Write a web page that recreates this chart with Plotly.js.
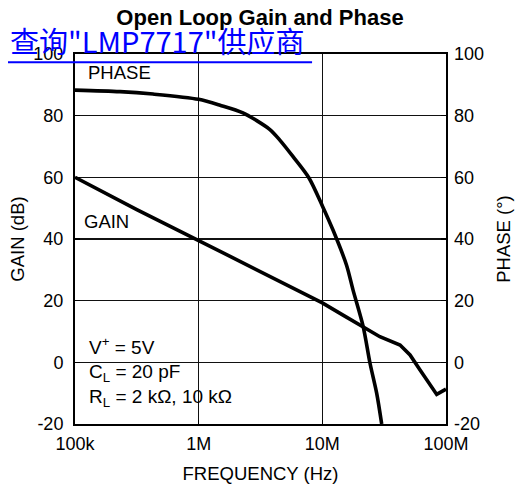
<!DOCTYPE html>
<html><head><meta charset="utf-8">
<script src="https://cdn.plot.ly/plotly-3.0.1.min.js"></script>
<style>html,body{margin:0;padding:0;background:#fff}</style>
</head><body><div id="chart" style="width:520px;height:488px"></div>
<script>
const freqTickVals = [1e5, 1e6, 1e7, 1e8];
const freqTickText = ["100k", "1M", "10M", "100M"];
const yTickVals = [-20, 0, 20, 40, 60, 80, 100];
const yTickText = ["-20", "0", "20", "40", "60", "80", "100"];

const gainFreq = [1e5, 3.16e5, 1e6, 3.16e6, 1e7, 1.47e7, 2.14e7, 2.92e7, 4.25e7, 5.12e7, 6.17e7, 8.41e7, 1e8];
const gainDb   = [60, 49.5, 39.5, 29.3, 19.3, 15.3, 11.6, 8.3, 5.6, 2.4, -2.5, -10.4, -8.7];

const phaseFreq = [1e5, 2.31e5, 4.28e5, 1e6, 1.49e6, 2.28e6, 3.77e6, 4.55e6, 5.8e6, 7.8e6, 1.007e7, 1.22e7, 1.57e7, 1.77e7, 2.14e7, 2.43e7, 2.75e7, 3.02e7];
const phaseDeg  = [88.3, 87.8, 87, 85.3, 83.4, 80.9, 75.5, 72, 66.7, 59.8, 50.5, 42.9, 31.5, 23.5, 11.6, -0.3, -10, -20];

const titleText = "<b>Open Loop Gain and Phase</b>";
const linkText = "查询\"LMP7717\"供应商";

const baseFont = "Liberation Sans, Arial, Helvetica, sans-serif";

const traces = [
  {x: gainFreq, y: gainDb, type: "scatter", mode: "lines", name: "GAIN",
   line: {color: "#000", width: 3.6}, xaxis: "x", yaxis: "y"},
  {x: phaseFreq, y: phaseDeg, type: "scatter", mode: "lines", name: "PHASE",
   line: {color: "#000", width: 3.6, shape: "spline", smoothing: 0.8}, xaxis: "x", yaxis: "y2"}
];

const layout = {
  width: 520, height: 488,
  margin: {l: 75, r: 74, t: 54, b: 64},
  paper_bgcolor: "#fff", plot_bgcolor: "#fff",
  font: {family: baseFont, size: 18, color: "#000"},
  showlegend: false,
  title: {text: titleText, font: {size: 22, family: baseFont, color: "#000"},
          x: 0.5, xanchor: "center", y: 0.965, yanchor: "middle", xref: "container", yref: "container"},
  xaxis: {type: "log", range: [5, 8], tickvals: freqTickVals, ticktext: freqTickText,
          ticks: "inside", ticklen: 4, tickcolor: "#000", tickwidth: 1.2, ticklabelstandoff: 2,
          showgrid: true, gridcolor: "#111", gridwidth: 1.3,
          showline: true, linecolor: "#000", linewidth: 2, mirror: true, zeroline: false,
          tickfont: {size: 18}, title: {text: "FREQUENCY (Hz)", font: {size: 18.5}, standoff: 14}},
  yaxis: {range: [-20, 100], tickvals: yTickVals, ticktext: yTickText, ticks: "inside", ticklen: 5, tickcolor: "#000", tickwidth: 1.2,
          ticklabelstandoff: 6,
          showgrid: true, gridcolor: "#111", gridwidth: 1.3,
          showline: true, linecolor: "#000", linewidth: 2, mirror: true, zeroline: false,
          tickfont: {size: 18}, title: {text: "GAIN (dB)", font: {size: 18.5}, standoff: 4}},
  yaxis2: {overlaying: "y", side: "right", range: [-20, 100], tickvals: yTickVals, ticktext: yTickText,
          ticks: "inside", ticklen: 5, tickcolor: "#000", tickwidth: 1.2, ticklabelstandoff: 7,
          showgrid: false, zeroline: false, showline: false,
          tickfont: {size: 18}, title: {text: "PHASE (°)", font: {size: 18.5}, standoff: 14}},
  shapes: [
    {type: "rect", xref: "paper", yref: "paper", x0: 0, x1: 0.439, y0: 0, y1: 0.2676,
     fillcolor: "#fff", line: {width: 0}, layer: "between"},
    {type: "line", xref: "paper", yref: "paper", x0: -0.1806, x1: 0.639, y0: 0.978, y1: 0.978,
     line: {color: "#0000ff", width: 2}, layer: "above"}
  ],
  annotations: [
    {text: "PHASE", xref: "paper", yref: "paper", x: 0.0296, y: 0.951, xanchor: "left", yanchor: "middle", showarrow: false, font: {size: 18.5}},
    {text: "GAIN", xref: "paper", yref: "paper", x: 0.0189, y: 0.5486, xanchor: "left", yanchor: "middle", showarrow: false, font: {size: 18.5}},
    {text: "V<sup>+</sup> = 5V", xref: "paper", yref: "paper", x: 0.0323, y: 0.2108, xanchor: "left", yanchor: "middle", showarrow: false, font: {size: 19}},
    {text: "C<sub>L</sub> = 20 pF", xref: "paper", yref: "paper", x: 0.0323, y: 0.1378, xanchor: "left", yanchor: "middle", showarrow: false, font: {size: 19}},
    {text: "R<sub>L</sub> = 2 kΩ, 10 kΩ", xref: "paper", yref: "paper", x: 0.0323, y: 0.0703, xanchor: "left", yanchor: "middle", showarrow: false, font: {size: 19}},
    {text: linkText, xref: "paper", yref: "paper", x: -0.18, y: 1.0378, xanchor: "left", yanchor: "middle", showarrow: false,
     font: {size: 29, color: "#0000ff", family: "Noto Sans CJK SC, sans-serif"}}
  ]
};

Plotly.newPlot("chart", traces, layout, {staticPlot: true, displayModeBar: false});
</script>
</body></html>
